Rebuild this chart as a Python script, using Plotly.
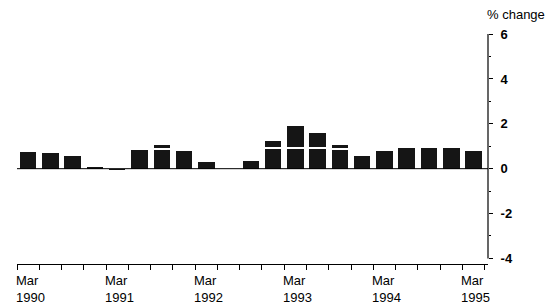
import plotly.graph_objects as go

# Quarterly periods, Mar 1990 .. Mar 1995
quarters = ["Mar 1990", "Jun 1990", "Sep 1990", "Dec 1990",
            "Mar 1991", "Jun 1991", "Sep 1991", "Dec 1991",
            "Mar 1992", "Jun 1992", "Sep 1992", "Dec 1992",
            "Mar 1993", "Jun 1993", "Sep 1993", "Dec 1993",
            "Mar 1994", "Jun 1994", "Sep 1994", "Dec 1994",
            "Mar 1995"]
# lower (dark) component of each bar, % change
series_a = [0.78, 0.75, 0.60, 0.10, -0.10, 0.88, 0.86, 0.83, 0.34, 0.00, 0.38,
            0.94, 0.94, 0.94, 0.90, 0.61, 0.82, 0.96, 0.96, 0.96, 0.82]
# upper (stacked) component
series_b = [0, 0, 0, 0, 0, 0, 0.26, 0, 0, 0, 0,
            0.33, 0.99, 0.69, 0.22, 0, 0, 0, 0, 0, 0]
year_ticks = ["Mar<br>1990", "Mar<br>1991", "Mar<br>1992",
              "Mar<br>1993", "Mar<br>1994", "Mar<br>1995"]
y_tickvals = [6, 4, 2, 0, -2, -4]
y_ticktext = ["6", "4", "2", "0", "-2", "-4"]

xpos = [i + 0.5 for i in range(len(quarters))]
BAR = "#151515"
FONT = "Liberation Sans"

fig = go.Figure()
fig.add_bar(x=xpos, y=series_a, width=0.74, marker=dict(color=BAR, line=dict(width=0)),
            hovertext=quarters)
fig.add_bar(x=xpos, y=series_b, width=0.74 + 2 / 22.3,
            marker=dict(color=BAR, line=dict(color="white", width=2)), hovertext=quarters)

# page body has an 8px margin, so the figure is sized to fit the window
fig.update_layout(
    barmode="stack",
    width=545, height=298,
    margin=dict(l=9, r=65, t=25, b=42),
    paper_bgcolor="white", plot_bgcolor="white",
    showlegend=False,
    font=dict(family=FONT, color="black", size=13),
    xaxis=dict(range=[0, 21.15], showgrid=False, zeroline=False,
               showline=True, linecolor="black", linewidth=1,
               ticks="outside", ticklen=5, tickcolor="black",
               tickvals=list(range(22)), showticklabels=False, fixedrange=True),
    yaxis=dict(range=[-4.25, 6.05], side="right", showgrid=False,
               zeroline=False, showline=False,
               tickvals=y_tickvals, ticktext=y_ticktext,
               ticks="outside", ticklen=4, tickcolor="black",
               ticklabelstandoff=5,
               tickfont=dict(family=FONT, size=13, weight="bold"),
               minor=dict(dtick=1, ticks="outside", ticklen=2, tickcolor="black"),
               fixedrange=True),
)

# y axis line from -4 to 6 and zero line
fig.add_shape(type="line", xref="paper", yref="y", x0=1, x1=1, y0=-4, y1=6,
              line=dict(color="black", width=1.2))
fig.add_shape(type="line", xref="paper", yref="y", x0=0, x1=1, y0=0, y1=0,
              line=dict(color="black", width=1), layer="above")

for i, lab in enumerate(year_ticks):
    fig.add_annotation(x=i * 4, xref="x", y=0, yref="paper", text=lab,
                       showarrow=False, xanchor="left", yanchor="top", align="left",
                       xshift=-3, yshift=-7, font=dict(size=13, family=FONT))

fig.add_annotation(x=1, xref="paper", y=1, yref="paper", text="% change",
                   showarrow=False, xanchor="left", yanchor="bottom",
                   xshift=-3, yshift=9, font=dict(size=13, family=FONT))

fig.write_html("out.html")
